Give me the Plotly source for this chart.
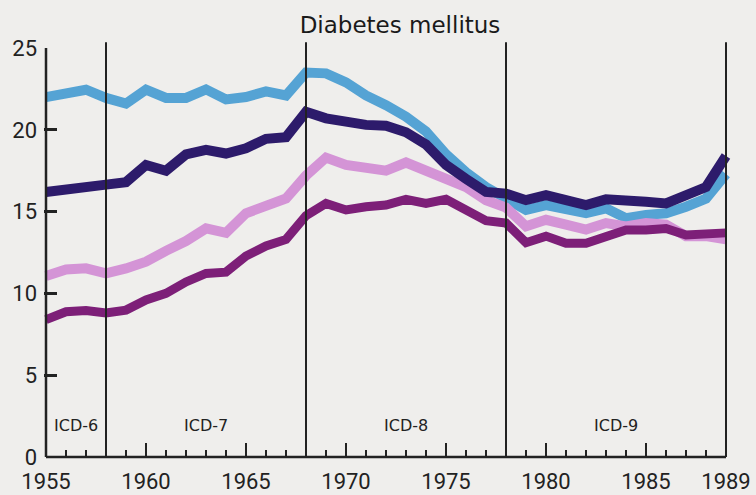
import plotly.graph_objects as go

years = list(range(1955, 1990))

light_blue = [22.0, 22.15, 22.45, 21.95, 21.6, 22.45, 21.95, 21.95, 22.47, 21.86,
              22.0, 22.35, 22.1, 23.5, 23.45, 22.9, 22.1, 21.5, 20.8, 19.9,
              18.5, 17.4, 16.5, 15.8, 15.1, 15.4, 15.1, 14.9, 15.2, 14.6,
              14.8, 14.9, 15.3, 15.8, 17.3]
navy = [16.2, 16.3, 16.4, 16.65, 16.8, 17.85, 17.5, 18.5, 18.77, 18.55,
        18.87, 19.45, 19.55, 21.1, 20.7, 20.45, 20.3, 20.25, 19.85, 19.1,
        17.85, 17.0, 16.2, 16.1, 15.7, 16.0, 15.75, 15.4, 15.75, 15.6,
        15.6, 15.5, 16.0, 16.5, 18.4]
pink = [11.06, 11.46, 11.53, 11.23, 11.53, 11.94, 12.6, 13.2, 13.97, 13.7,
        14.9, 15.3, 15.8, 17.2, 18.3, 17.85, 17.6, 17.5, 18.0, 17.5,
        17.1, 16.5, 15.7, 15.25, 14.1, 14.5, 14.2, 13.9, 14.3, 14.1,
        14.3, 14.2, 13.5, 13.5, 13.3]
purple = [8.4, 8.88, 8.95, 8.8, 8.98, 9.6, 10.0, 10.7, 11.22, 11.3,
          12.28, 12.9, 13.3, 14.75, 15.5, 15.1, 15.3, 15.4, 15.75, 15.5,
          15.75, 15.15, 14.45, 14.3, 13.1, 13.5, 13.06, 13.06, 13.47, 13.87,
          13.87, 13.97, 13.57, 13.67, 13.7]

revision_bounds = [1955, 1958, 1968, 1978, 1989]
revision_labels = ["ICD-6", "ICD-7", "ICD-8", "ICD-9"]
x_tick_vals = [1955, 1960, 1965, 1970, 1975, 1980, 1985, 1989]
x_tick_text = [str(v) for v in x_tick_vals]
y_tick_vals = [0, 5, 10, 15, 20, 25]
title_text = "Diabetes mellitus"

BG = "#efeeec"
INK = "#222222"
TICKFONT = "Roboto, sans-serif"
TEXTFONT = "DejaVu Sans, sans-serif"

fig = go.Figure()

series = [
    (light_blue, "#55a3d4", 10),
    (pink, "#d494d6", 10),
    (navy, "#2d1b6b", 10),
    (purple, "#7d1f78", 9),
]
for vals, col, w in series:
    fig.add_trace(go.Scatter(x=years, y=vals, mode="lines",
                             line=dict(color=col, width=w),
                             hoverinfo="skip", showlegend=False))

y_max = 25
shapes = []
# axis lines
shapes.append(dict(type="line", xref="x", yref="paper",
                   x0=revision_bounds[0], x1=revision_bounds[-1], y0=0, y1=0,
                   line=dict(color=INK, width=2.5)))
shapes.append(dict(type="line", xref="x", yref="paper",
                   x0=revision_bounds[0], x1=revision_bounds[0], y0=0, y1=1,
                   line=dict(color=INK, width=2.5)))
# revision boundaries
for b in revision_bounds[1:]:
    shapes.append(dict(type="line", xref="x", yref="paper",
                       x0=b, x1=b, y0=0, y1=25.35 / y_max,
                       line=dict(color=INK, width=2)))

annotations = []
for i, lab in enumerate(revision_labels):
    mid = (revision_bounds[i] + revision_bounds[i + 1]) / 2
    annotations.append(dict(x=mid, y=1.9, xref="x", yref="y", text=lab,
                            showarrow=False, xanchor="center", yanchor="middle",
                            font=dict(family=TEXTFONT, size=16, color=INK)))

fig.update_layout(
    width=756, height=495,
    margin=dict(l=44, r=24, t=48, b=38),
    paper_bgcolor=BG, plot_bgcolor=BG,
    shapes=shapes, annotations=annotations,
    title=dict(text=title_text, x=400 / 756, y=1 - 24.5 / 495,
               xanchor="center", yanchor="middle",
               font=dict(family=TEXTFONT, size=23, color="#1a1a1a")),
    xaxis=dict(range=[1954.9, 1989.3], showgrid=False, zeroline=False,
               showline=False, ticks="inside", ticklen=14, tickwidth=2,
               tickcolor=INK, tickvals=x_tick_vals, ticktext=x_tick_text,
               tickfont=dict(family=TICKFONT, size=22, color=INK),
               ticklabelstandoff=9, automargin=False,
               minor=dict(ticks="inside", ticklen=7, tickwidth=2,
                          tickcolor=INK, dtick=1, tick0=1955, showgrid=False)),
    yaxis=dict(range=[0, y_max], showgrid=False, zeroline=False,
               showline=False, ticks="inside", ticklen=13, tickwidth=2.5,
               tickcolor=INK, tickvals=y_tick_vals,
               tickfont=dict(family=TICKFONT, size=22, color=INK),
               ticklabelstandoff=6, automargin=False),
)

fig.write_html(
    "out.html",
    config={"displayModeBar": False},
    post_script="document.body.style.margin='0';"
                "document.body.style.background='#efeeec';",
)
